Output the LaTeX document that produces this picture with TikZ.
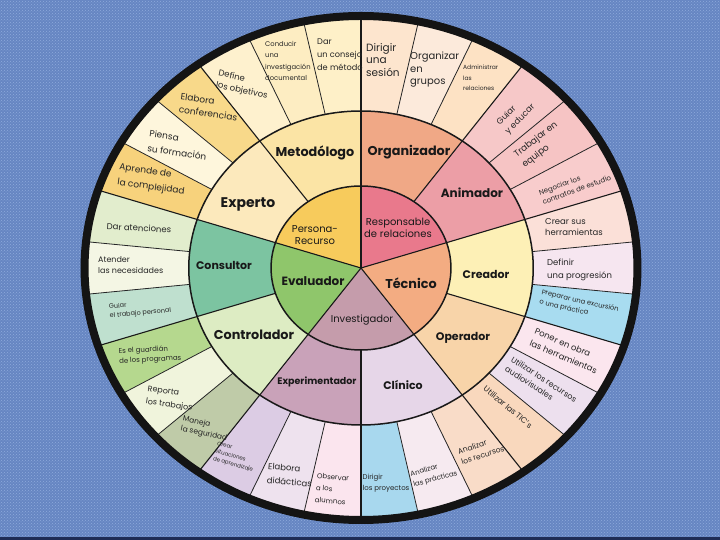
\documentclass[tikz,border=0pt]{standalone}
\usepackage{fontspec}
\setmainfont{Poppins}
\usetikzlibrary{patterns}
\definecolor{bgblue}{HTML}{6686C2}
\definecolor{bgtex}{HTML}{8FAADC}
\definecolor{bgnavy}{HTML}{1E2C55}
% inner
\definecolor{cPR}{HTML}{F7CB5C}
\definecolor{cRR}{HTML}{E9798C}
\definecolor{cTE}{HTML}{F3AC82}
\definecolor{cIN}{HTML}{C59CAB}
\definecolor{cEV}{HTML}{8FC66B}
% middle
\definecolor{cMET}{HTML}{FBE4A5}
\definecolor{cEXT}{HTML}{FCE9BC}
\definecolor{cCNS}{HTML}{7CC4A1}
\definecolor{cCTR}{HTML}{DDECC3}
\definecolor{cEXP}{HTML}{C9A2B9}
\definecolor{cCLI}{HTML}{E6D6E8}
\definecolor{cOPE}{HTML}{F8D4A9}
\definecolor{cCRE}{HTML}{FDF0B6}
\definecolor{cANI}{HTML}{EC9EA6}
\definecolor{cORG}{HTML}{F0A886}
% outer
\definecolor{o01}{HTML}{FEF0C8}
\definecolor{o02}{HTML}{FDEDC2}
\definecolor{o03}{HTML}{FEF1CE}
\definecolor{o04}{HTML}{F8D98A}
\definecolor{o05}{HTML}{FEF6DC}
\definecolor{o06}{HTML}{F7D27C}
\definecolor{o07}{HTML}{E2EDCD}
\definecolor{o08}{HTML}{F4F6E4}
\definecolor{o09}{HTML}{BFE0CF}
\definecolor{o10}{HTML}{B5D88E}
\definecolor{o11}{HTML}{F0F4DC}
\definecolor{o12}{HTML}{BFCBA8}
\definecolor{o13}{HTML}{DCCCE4}
\definecolor{o14}{HTML}{EEE2EE}
\definecolor{o15}{HTML}{FBE5EE}
\definecolor{o16}{HTML}{A8D8EE}
\definecolor{o17}{HTML}{F6EAF0}
\definecolor{o18}{HTML}{F9DCC8}
\definecolor{o19}{HTML}{F9D8BD}
\definecolor{o20}{HTML}{EDE0EE}
\definecolor{o21}{HTML}{FBE6EE}
\definecolor{o22}{HTML}{A8DCF0}
\definecolor{o23}{HTML}{F6E6F0}
\definecolor{o24}{HTML}{FBE0D8}
\definecolor{o25}{HTML}{F8CCCC}
\definecolor{o26}{HTML}{F6C4C4}
\definecolor{o27}{HTML}{F6C8C8}
\definecolor{o28}{HTML}{FDE2C4}
\definecolor{o29}{HTML}{FCEADB}
\definecolor{o30}{HTML}{FDE5CE}
\newcommand\wsec[5]{\fill[#1] (#2:#4) arc[start angle=#2,end angle=#3,radius=#4] -- (#3:#5) arc[start angle=#3,end angle=#2,radius=#5] -- cycle;}
\newcommand\wpie[4]{\fill[#1] (0,0) -- (#2:#4) arc[start angle=#2,end angle=#3,radius=#4] -- cycle;}
\newcommand\fsz[2]{\fontsize{#1}{#2}\selectfont}
\begin{document}
\begin{tikzpicture}[x=1pt,y=1pt,
  spoke/.style={line width=1.1pt,draw=black!90},
  thinspoke/.style={line width=0.8pt,draw=black!85},
  ringline/.style={line width=1.5pt,draw=black!90},
  ol/.style={inner sep=0pt,align=left,text=black!85},
  ml/.style={inner sep=0pt,align=center,font=\bfseries\fsz{11}{13},text=black!90},
  il/.style={inner sep=0pt,align=center,font=\fsz{10}{12.5},text=black!90}]
\useasboundingbox (0,0) rectangle (720,540);
\fill[bgblue] (0,0) rectangle (720,540);
\fill[pattern=crosshatch dots,pattern color=bgtex] (0,0) rectangle (720,540);
\fill[bgnavy] (0,0) rectangle (720,3);
\begin{scope}[shift={(361,272)},xscale=1.097]
% outer cells
\wsec{o01}{90}{102}{157}{252}
\wsec{o02}{102}{114}{157}{252}
\wsec{o03}{114}{126}{157}{252}
\wsec{o04}{126}{138}{157}{252}
\wsec{o05}{138}{150}{157}{252}
\wsec{o06}{150}{162}{157}{252}
\wsec{o07}{162}{174}{157}{252}
\wsec{o08}{174}{186}{157}{252}
\wsec{o09}{186}{198}{157}{252}
\wsec{o10}{198}{210}{157}{252}
\wsec{o11}{210}{222}{157}{252}
\wsec{o12}{222}{234}{157}{252}
\wsec{o13}{234}{246}{157}{252}
\wsec{o14}{246}{258}{157}{252}
\wsec{o15}{258}{270}{157}{252}
\wsec{o16}{270}{282}{157}{252}
\wsec{o17}{282}{294}{157}{252}
\wsec{o18}{294}{306}{157}{252}
\wsec{o19}{306}{318}{157}{252}
\wsec{o20}{318}{330}{157}{252}
\wsec{o21}{330}{342}{157}{252}
\wsec{o22}{342}{354}{157}{252}
\wsec{o23}{354}{366}{157}{252}
\wsec{o24}{366}{378}{157}{252}
\wsec{o25}{18}{30}{157}{252}
\wsec{o26}{30}{42}{157}{252}
\wsec{o27}{42}{54}{157}{252}
\wsec{o28}{54}{66}{157}{252}
\wsec{o29}{66}{78}{157}{252}
\wsec{o30}{78}{90}{157}{252}
% middle cells
\wsec{cMET}{90}{126}{82}{157}
\wsec{cEXT}{126}{162}{82}{157}
\wsec{cCNS}{162}{198}{82}{157}
\wsec{cCTR}{198}{234}{82}{157}
\wsec{cEXP}{234}{270}{82}{157}
\wsec{cCLI}{270}{306}{82}{157}
\wsec{cOPE}{306}{342}{82}{157}
\wsec{cCRE}{342}{378}{82}{157}
\wsec{cANI}{18}{54}{82}{157}
\wsec{cORG}{54}{90}{82}{157}
% inner cells
\wpie{cPR}{90}{162}{82}
\wpie{cEV}{162}{234}{82}
\wpie{cIN}{234}{306}{82}
\wpie{cTE}{306}{378}{82}
\wpie{cRR}{18}{90}{82}
% spokes
\foreach \a in {18,90,162,234,306} \draw[spoke] (0,0) -- (\a:250);
\foreach \a in {54,126,198,270,342} \draw[spoke] (\a:82) -- (\a:250);
\foreach \a in {6,30,42,66,78,102,114,138,150,174,186,210,222,246,258,282,294,318,330,354}
  \draw[thinspoke] (\a:157) -- (\a:250);
\draw[ringline] (0,0) circle[radius=82];
\draw[ringline] (0,0) circle[radius=157];
\end{scope}
% outer labels
\node[ol,anchor=west,font=\fsz{8.2}{13}] (o1) at (317,485) {Dar\\un consejo\\de método};
\node[ol,anchor=west,font=\fsz{6.8}{11.5}] (o2) at (265,479) {Conducir\\una\\investigación\\documental};
\node[ol,rotate=-12,font=\fsz{8.5}{12}] (o3) at (243,455) {Define\\los objetivos};
\node[ol,rotate=-8,font=\fsz{9}{13}] (o4) at (209,433) {Elabora\\conferencias};
\node[ol,rotate=-8,font=\fsz{9}{15}] (o5) at (178,395) {Piensa\\su formación};
\node[ol,rotate=-8,font=\fsz{9}{15}] (o6) at (152,360) {Aprende de\\la complejidad};
\node[ol,rotate=-3,font=\fsz{8.5}{11}] (o7) at (139,312) {Dar atenciones};
\node[ol,anchor=west,font=\fsz{8}{11}] (o8) at (98,275) {Atender\\las necesidades};
\node[ol,rotate=5,font=\fsz{6.5}{9}] (o9) at (140,231) {Guiar\\el trabajo personal};
\node[ol,rotate=3,font=\fsz{7}{10}] (o10) at (150,185) {Es el guardián\\de los programas};
\node[ol,rotate=-8,font=\fsz{8}{13}] (o11) at (170,141) {Reporta\\los trabajos};
\node[ol,rotate=-12,font=\fsz{7.5}{10}] (o12) at (205,111) {Maneja\\la seguridad};
\node[ol,rotate=-15,font=\fsz{5.5}{8}] (o13) at (235,83) {Crear\\situaciones\\de aprendizaje};
\node[ol,rotate=-5,font=\fsz{8.5}{14}] (o14) at (290,65) {Elabora\\didácticas};
\node[ol,rotate=-5,font=\fsz{7}{12}] (o15) at (332,51) {Observar\\a los\\alumnos};
\node[ol,font=\fsz{7}{11}] (o16) at (386,57) {Dirigir\\los proyectos};
\node[ol,rotate=15,font=\fsz{7}{11}] (o17) at (434,66) {Analizar\\las prácticas};
\node[ol,rotate=18,font=\fsz{7.5}{11}] (o18) at (481,90) {Analizar\\los recursos};
\node[ol,rotate=-40,font=\fsz{8}{10}] (o19) at (508,133) {Utilizar las TIC's};
\node[ol,rotate=-33,font=\fsz{8}{11}] (o20) at (541,156) {Utilizar los recursos\\audiovisuales};
\node[ol,rotate=-23,font=\fsz{8.5}{13}] (o21) at (566,189) {Poner en obra\\las herramientas};
\node[ol,rotate=-13,font=\fsz{6.8}{10}] (o22) at (579,234) {Preparar una excursión\\o una práctica};
\node[ol,anchor=west,font=\fsz{8.5}{13}] (o23) at (547,270) {Definir\\una progresión};
\node[ol,anchor=west,font=\fsz{8.5}{11}] (o24) at (545,313) {Crear sus\\herramientas};
\node[ol,rotate=20,font=\fsz{7}{10}] (o25) at (575,355) {Negociar los\\contratos de estudio};
\node[ol,rotate=38,font=\fsz{9}{13}] (o26) at (540,395) {Trabajar en\\equipo};
\node[ol,rotate=45,font=\fsz{8.5}{12}] (o27) at (516,425) {Guiar\\y educar};
\node[ol,anchor=west,font=\fsz{6}{10.5}] (o28) at (463,462) {Administrar\\las\\relaciones};
\node[ol,anchor=west,font=\fsz{10}{12.5}] (o29) at (410,470) {Organizar\\en\\grupos};
\node[ol,anchor=west,font=\fsz{10.5}{12.5}] (o30) at (366,480) {Dirigir\\una\\sesión};
% middle labels
\node[ml,font=\bfseries\fsz{12.8}{15}] (m1) at (315,387) {Metodólogo};
\node[ml,font=\bfseries\fsz{12.8}{15}] (m2) at (409,388) {Organizador};
\node[ml,font=\bfseries\fsz{12}{14}] (m3) at (472,347) {Animador};
\node[ml] (m4) at (486,266) {Creador};
\node[ml] (m5) at (463,202) {Operador};
\node[ml] (m6) at (403,155) {Clínico};
\node[ml,font=\bfseries\fsz{9.5}{12}] (m7) at (317,158) {Experimentador};
\node[ml,font=\bfseries\fsz{12.8}{15}] (m8) at (254,205) {Controlador};
\node[ml] (m9) at (224,275) {Consultor};
\node[ml,font=\bfseries\fsz{14}{16}] (m10) at (248,336) {Experto};
% inner labels
\node[il] (i1) at (315,305) {Persona-\\Recurso};
\node[il] (i2) at (398,312) {Responsable\\de relaciones};
\node[il,font=\bfseries\fsz{12.8}{15}] (i3) at (411,257) {Técnico};
\node[il] (i4) at (362,220) {Investigador};
\node[il,font=\bfseries\fsz{12}{14}] (i5) at (313,259) {Evaluador};
% black outer ring on top
\begin{scope}[shift={(361,272)},xscale=1.097]
\draw[line width=8pt,black!92] (0,0) circle[radius=252];
\end{scope}
\end{tikzpicture}
\end{document}
